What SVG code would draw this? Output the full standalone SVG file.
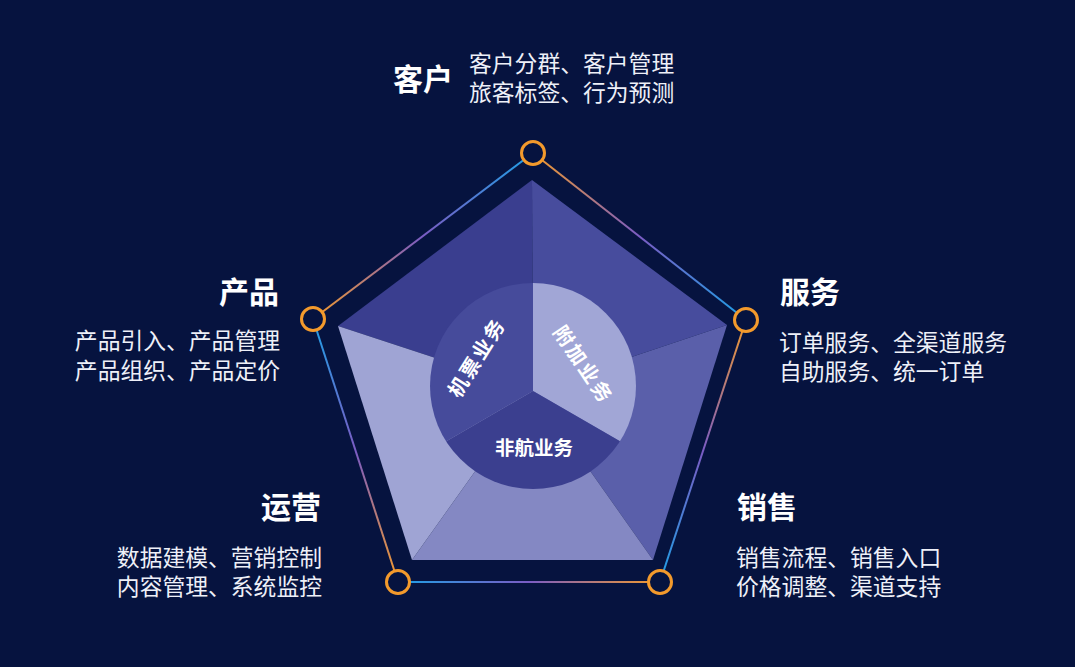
<svg xmlns="http://www.w3.org/2000/svg" width="1075" height="667" viewBox="0 0 1075 667">
<defs>
<style>
.t{font-family:"Noto Sans CJK SC","Noto Sans",sans-serif;fill:#ffffff}
.h{font-size:30px;font-weight:700}
.s{font-size:22.8px;font-weight:400;fill:#eef0f8}
.c{font-size:19.5px;font-weight:700;text-anchor:middle}
.r{font-size:20px;letter-spacing:2.3px}
.edge{fill:none;stroke-width:2}
.node{fill:#06133f;stroke:#f39a2c;stroke-width:3}
</style>
<linearGradient id="g1" gradientUnits="userSpaceOnUse" x1="533" y1="153" x2="746" y2="320"><stop offset="0" stop-color="#f39a2c"/><stop offset="0.5" stop-color="#7a5cc4"/><stop offset="1" stop-color="#1ea0e6"/></linearGradient>
<linearGradient id="g2" gradientUnits="userSpaceOnUse" x1="746" y1="320" x2="660" y2="582"><stop offset="0" stop-color="#f39a2c"/><stop offset="0.5" stop-color="#7a5cc4"/><stop offset="1" stop-color="#1ea0e6"/></linearGradient>
<linearGradient id="g3" gradientUnits="userSpaceOnUse" x1="660" y1="582" x2="398" y2="582"><stop offset="0" stop-color="#f39a2c"/><stop offset="0.5" stop-color="#7a5cc4"/><stop offset="1" stop-color="#1ea0e6"/></linearGradient>
<linearGradient id="g4" gradientUnits="userSpaceOnUse" x1="398" y1="582" x2="313" y2="319"><stop offset="0" stop-color="#f39a2c"/><stop offset="0.5" stop-color="#7a5cc4"/><stop offset="1" stop-color="#1ea0e6"/></linearGradient>
<linearGradient id="g5" gradientUnits="userSpaceOnUse" x1="313" y1="319" x2="533" y2="153"><stop offset="0" stop-color="#f39a2c"/><stop offset="0.5" stop-color="#7a5cc4"/><stop offset="1" stop-color="#1ea0e6"/></linearGradient>
<clipPath id="cc"><circle cx="533" cy="386" r="103"/></clipPath>
</defs>
<rect width="1075" height="667" fill="#06133f"/>

<g id="connectors">
<line class="edge" x1="533" y1="153" x2="746" y2="320" stroke="url(#g1)"/>
<line class="edge" x1="746" y1="320" x2="660" y2="582" stroke="url(#g2)"/>
<line class="edge" x1="660" y1="582" x2="398" y2="582" stroke="url(#g3)"/>
<line class="edge" x1="398" y1="582" x2="313" y2="319" stroke="url(#g4)"/>
<line class="edge" x1="313" y1="319" x2="533" y2="153" stroke="url(#g5)"/>
</g>

<g id="pentagon">
<polygon points="338,326 532,180 533,390" fill="#3a3e8f"/>
<polygon points="532,180 727,325 533,390" fill="#474c9d"/>
<polygon points="727,325 653,560 533,390" fill="#5a5faa"/>
<polygon points="653,560 412,560 533,390" fill="#8488c3"/>
<polygon points="412,560 338,326 533,390" fill="#9fa4d4"/>
</g>

<g id="core" clip-path="url(#cc)">
<polygon points="533,391 533,270 420,270 420,456.5" fill="#464b9b"/>
<polygon points="533,391 533,270 650,270 650,458.6" fill="#a1a6d6"/>
<polygon points="533,391 420,456.5 420,500 650,500 650,458.6" fill="#3b3f8f"/>
</g>
<g id="core-labels">
<text class="t c r" transform="translate(476.5,358.5) rotate(-58)" x="1" y="7">机票业务</text>
<text class="t c r" transform="translate(582.5,364) rotate(56)" x="1" y="7">附加业务</text>
<text class="t c" x="534" y="455">非航业务</text>
</g>

<g id="node-kehu">
<circle class="node" cx="533" cy="153" r="11.5"/>
<text class="t h" x="393" y="90">客户</text>
<text class="t s" x="469" y="71.5">客户分群、客户管理</text>
<text class="t s" x="469" y="100.5">旅客标签、行为预测</text>
</g>
<g id="node-fuwu">
<circle class="node" cx="746" cy="320" r="11.5"/>
<text class="t h" x="780" y="303">服务</text>
<text class="t s" x="779" y="350.5">订单服务、全渠道服务</text>
<text class="t s" x="779" y="379.5">自助服务、统一订单</text>
</g>
<g id="node-xiaoshou">
<circle class="node" cx="660" cy="582" r="11.5"/>
<text class="t h" x="737" y="518">销售</text>
<text class="t s" x="736" y="565.5">销售流程、销售入口</text>
<text class="t s" x="736" y="594.5">价格调整、渠道支持</text>
</g>
<g id="node-yunying">
<circle class="node" cx="398" cy="582" r="11.5"/>
<text class="t h" x="321" y="518" text-anchor="end">运营</text>
<text class="t s" x="322" y="565.5" text-anchor="end">数据建模、营销控制</text>
<text class="t s" x="322" y="594.5" text-anchor="end">内容管理、系统监控</text>
</g>
<g id="node-chanpin">
<circle class="node" cx="313" cy="319" r="11.5"/>
<text class="t h" x="279" y="303" text-anchor="end">产品</text>
<text class="t s" x="280" y="348.5" text-anchor="end">产品引入、产品管理</text>
<text class="t s" x="280" y="379" text-anchor="end">产品组织、产品定价</text>
</g>
</svg>
